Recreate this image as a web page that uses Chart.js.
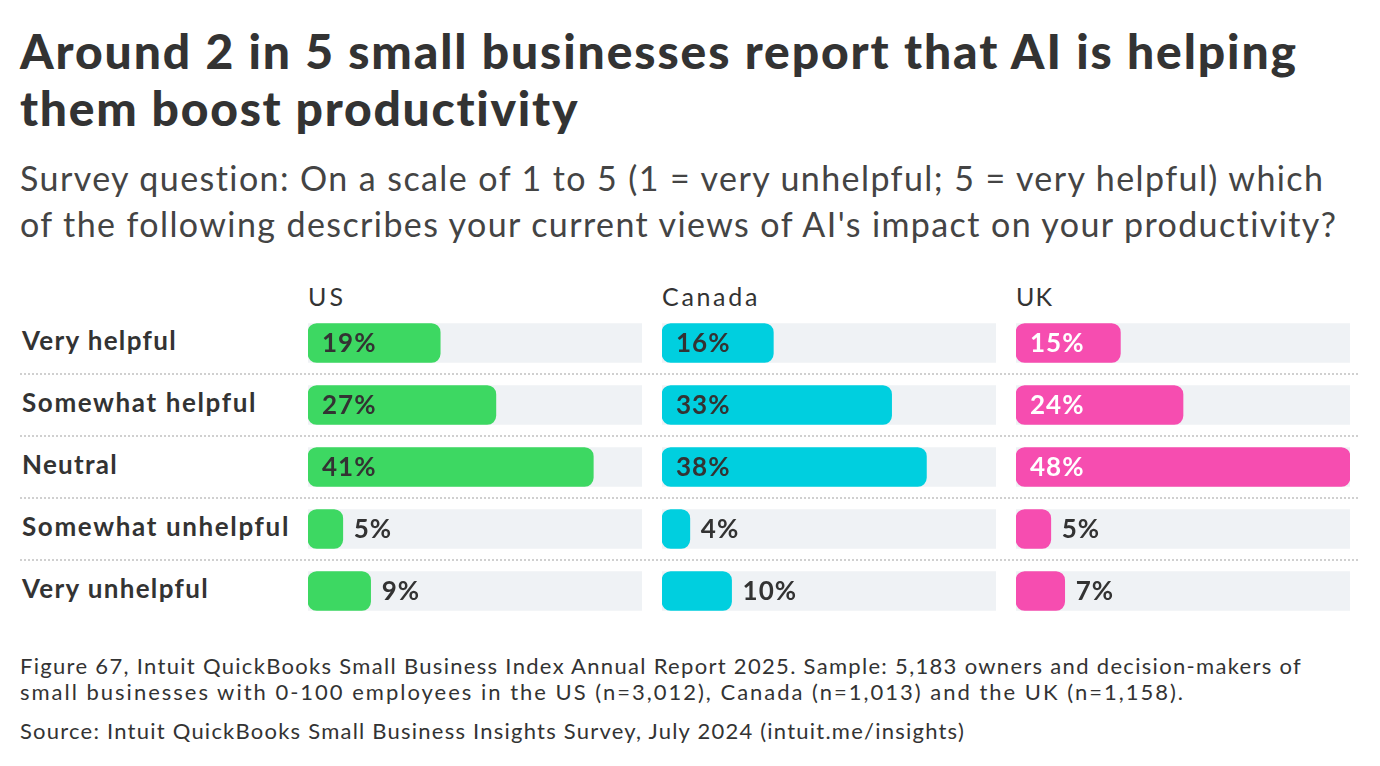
<!DOCTYPE html>
<html>
<head>
<meta charset="utf-8">
<script src="https://cdn.jsdelivr.net/npm/chart.js@4"></script>
<style>
  html, body { margin:0; padding:0; background:#fff; }
  body { width:1380px; height:766px; position:relative; overflow:hidden; font-family: Lato, "Noto Sans", sans-serif; color:#333; }
  .abs { position:absolute; white-space:nowrap; }
  .title { left:20px; font-size:48px; font-weight:900; line-height:57px; color:#333; }
  .subtitle { left:20px; font-size:34px; font-weight:400; line-height:46px; color:#444; }
  .country { font-size:25px; font-weight:400; color:#333; top:281px; }
  .rowlabel { left:22px; font-size:26px; font-weight:700; color:#333; line-height:30px; }
  .sep { left:20px; width:1338px; height:0; border-top:2px dotted #d0d0d0; }
  .chartbox { position:absolute; top:312px; height:310px; width:334px; }
  .foot { left:20px; font-size:22px; line-height:26px; color:#333; }
</style>
</head>
<body>
<div class="abs title fit" style="top:22px" data-w="1278">Around 2 in 5 small businesses report that AI is helping</div>
<div class="abs title fit" style="top:79px" data-w="560">them boost productivity</div>
<div class="abs subtitle fit" style="top:155px" data-w="1305">Survey question: On a scale of 1 to 5 (1 = very unhelpful; 5 = very helpful) which</div>
<div class="abs subtitle fit" style="top:201px" data-w="1318">of the following describes your current views of AI's impact on your productivity?</div>
<div id="labels"></div>
<div id="charts"></div>
<div class="abs foot fit" style="top:653px" data-w="1282">Figure 67, Intuit QuickBooks Small Business Index Annual Report 2025. Sample: 5,183 owners and decision-makers of</div>
<div class="abs foot fit" style="top:679px" data-w="1165">small businesses with 0-100 employees in the US (n=3,012), Canada (n=1,013) and the UK (n=1,158).</div>
<div class="abs foot fit" style="top:718px" data-w="945">Source: Intuit QuickBooks Small Business Insights Survey, July 2024 (intuit.me/insights)</div>
<script>
const categories = ["Very helpful", "Somewhat helpful", "Neutral", "Somewhat unhelpful", "Very unhelpful"];
const countries = ["US", "Canada", "UK"];
const usValues = [19, 27, 41, 5, 9];
const canadaValues = [16, 33, 38, 4, 10];
const ukValues = [15, 24, 48, 5, 7];
const scaleMax = 48;
const insideThreshold = 12;

const seriesValues = [usValues, canadaValues, ukValues];
const barColors = ["#3dd862", "#00cfdf", "#f64db0"];
const insideLabelColors = ["#333333", "#333333", "#ffffff"];
const trackColor = "#eff2f5";
const chartLefts = [308, 662, 1016];
const rowLabelWidths = [155, 235, 96, 268, 187];
const countryWidths = [38, 98, 37];
const rowTop = 312, rowPitch = 62;

const labelsDiv = document.getElementById('labels');
categories.forEach((c, i) => {
  const d = document.createElement('div');
  d.className = 'abs rowlabel fit';
  d.dataset.w = rowLabelWidths[i];
  d.style.top = (rowTop + i * rowPitch + 31 - 15 - 3) + 'px';
  d.textContent = c;
  labelsDiv.appendChild(d);
  if (i > 0) {
    const s = document.createElement('div');
    s.className = 'abs sep';
    s.style.top = (rowTop + i * rowPitch - 1) + 'px';
    labelsDiv.appendChild(s);
  }
});

const valueLabelPlugin = {
  id: 'valueLabels',
  afterDatasetsDraw(chart, args, opts) {
    const ctx = chart.ctx;
    const meta = chart.getDatasetMeta(1);
    const data = chart.data.datasets[1].data;
    ctx.save();
    ctx.font = '700 26px Lato, "Noto Sans", sans-serif';
    try { ctx.letterSpacing = '1px'; } catch (e) {}
    ctx.textBaseline = 'middle';
    ctx.textAlign = 'left';
    meta.data.forEach((bar, i) => {
      const v = data[i];
      const txt = v + '%';
      if (v >= insideThreshold) {
        ctx.fillStyle = opts.insideColor;
        ctx.fillText(txt, bar.base + 14, bar.y + 1);
      } else {
        ctx.fillStyle = '#333333';
        ctx.fillText(txt, bar.x + 11, bar.y + 1);
      }
    });
    ctx.restore();
  }
};

const chartsDiv = document.getElementById('charts');
countries.forEach((name, k) => {
  const h = document.createElement('div');
  h.className = 'abs country fit';
  h.dataset.w = countryWidths[k];
  h.style.left = chartLefts[k] + 'px';
  h.textContent = name;
  chartsDiv.appendChild(h);

  const box = document.createElement('div');
  box.className = 'chartbox';
  box.style.left = chartLefts[k] + 'px';
  const cv = document.createElement('canvas');
  box.appendChild(cv);
  chartsDiv.appendChild(box);

  new Chart(cv, {
    type: 'bar',
    data: {
      labels: categories,
      datasets: [
        { data: categories.map(() => scaleMax), backgroundColor: trackColor, borderRadius: 0, barThickness: 39, order: 1 },
        { data: seriesValues[k], backgroundColor: barColors[k], borderRadius: 9, borderSkipped: false, barThickness: 39, order: 0 }
      ]
    },
    options: {
      indexAxis: 'y',
      responsive: true,
      maintainAspectRatio: false,
      animation: false,
      layout: { padding: 0 },
      datasets: { bar: { grouped: false } },
      scales: {
        x: { display: false, min: 0, max: scaleMax },
        y: { display: false }
      },
      plugins: {
        legend: { display: false },
        tooltip: { enabled: false },
        valueLabels: { insideColor: insideLabelColors[k] }
      }
    },
    plugins: [valueLabelPlugin]
  });
});

function fitAll() {
  document.querySelectorAll('.fit').forEach(el => {
    el.style.letterSpacing = '0px';
    const target = parseFloat(el.dataset.w);
    const w = el.getBoundingClientRect().width;
    const n = el.textContent.length;
    if (n > 1) el.style.letterSpacing = ((target - w) / n) + 'px';
  });
}
fitAll();
if (document.fonts && document.fonts.ready) document.fonts.ready.then(fitAll);
</script>
</body>
</html>
